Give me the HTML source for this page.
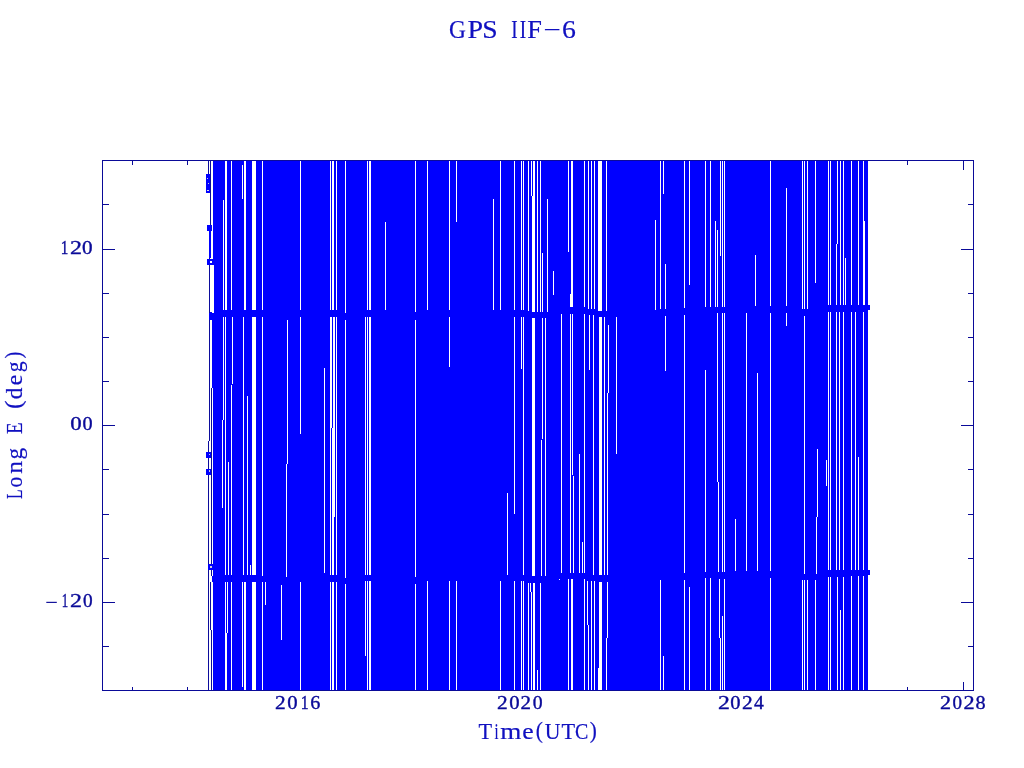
<!DOCTYPE html>
<html><head><meta charset="utf-8"><title>GPS IIF-6</title>
<style>
html,body{margin:0;padding:0;background:#fff;}
body{width:1024px;height:768px;position:relative;overflow:hidden;font-family:"Liberation Serif",serif;}
.t{position:absolute;white-space:nowrap;line-height:1;font-family:"Liberation Serif",serif;}
.ttl{color:#1010c0;font-size:25.6px;}
.lab{color:#1010c0;font-size:24px;}
.tk{color:#0a0a98;font-size:19px;letter-spacing:2.4px;-webkit-text-stroke:0.35px #0a0a98;}
</style></head><body>
<svg width="1024" height="768" viewBox="0 0 1024 768" shape-rendering="crispEdges" style="position:absolute;left:0;top:0">
<rect x="0" y="0" width="1024" height="768" fill="#fff"/>
<g fill="#0a0a98">
<rect x="102" y="160" width="872" height="1"/>
<rect x="102" y="690" width="872" height="1"/>
<rect x="102" y="160" width="1" height="531"/>
<rect x="973" y="160" width="1" height="531"/>
<rect x="132" y="161" width="1" height="4"/>
<rect x="132" y="687" width="1" height="3"/>
<rect x="187" y="161" width="1" height="4"/>
<rect x="187" y="687" width="1" height="3"/>
<rect x="242" y="161" width="1" height="4"/>
<rect x="242" y="687" width="1" height="3"/>
<rect x="298" y="161" width="1" height="9"/>
<rect x="298" y="682" width="1" height="8"/>
<rect x="353" y="161" width="1" height="4"/>
<rect x="353" y="687" width="1" height="3"/>
<rect x="409" y="161" width="1" height="4"/>
<rect x="409" y="687" width="1" height="3"/>
<rect x="464" y="161" width="1" height="4"/>
<rect x="464" y="687" width="1" height="3"/>
<rect x="520" y="161" width="1" height="9"/>
<rect x="520" y="682" width="1" height="8"/>
<rect x="575" y="161" width="1" height="4"/>
<rect x="575" y="687" width="1" height="3"/>
<rect x="630" y="161" width="1" height="4"/>
<rect x="630" y="687" width="1" height="3"/>
<rect x="686" y="161" width="1" height="4"/>
<rect x="686" y="687" width="1" height="3"/>
<rect x="741" y="161" width="1" height="9"/>
<rect x="741" y="682" width="1" height="8"/>
<rect x="796" y="161" width="1" height="4"/>
<rect x="796" y="687" width="1" height="3"/>
<rect x="852" y="161" width="1" height="4"/>
<rect x="852" y="687" width="1" height="3"/>
<rect x="907" y="161" width="1" height="4"/>
<rect x="907" y="687" width="1" height="3"/>
<rect x="963" y="161" width="1" height="9"/>
<rect x="963" y="682" width="1" height="8"/>
<rect x="103" y="204" width="6" height="1"/>
<rect x="968" y="204" width="5" height="1"/>
<rect x="103" y="249" width="12" height="1"/>
<rect x="961" y="249" width="12" height="1"/>
<rect x="103" y="293" width="6" height="1"/>
<rect x="968" y="293" width="5" height="1"/>
<rect x="103" y="337" width="6" height="1"/>
<rect x="968" y="337" width="5" height="1"/>
<rect x="103" y="381" width="6" height="1"/>
<rect x="968" y="381" width="5" height="1"/>
<rect x="103" y="425" width="12" height="1"/>
<rect x="961" y="425" width="12" height="1"/>
<rect x="103" y="469" width="6" height="1"/>
<rect x="968" y="469" width="5" height="1"/>
<rect x="103" y="514" width="6" height="1"/>
<rect x="968" y="514" width="5" height="1"/>
<rect x="103" y="558" width="6" height="1"/>
<rect x="968" y="558" width="5" height="1"/>
<rect x="103" y="602" width="12" height="1"/>
<rect x="961" y="602" width="12" height="1"/>
<rect x="103" y="646" width="6" height="1"/>
<rect x="968" y="646" width="5" height="1"/>
</g>
<rect x="212" y="161" width="656" height="529" fill="#0000ff"/>
<g fill="#fff">
<rect x="223" y="200.0" width="1" height="113.5"/>
<rect x="225" y="161.0" width="2" height="152.5"/>
<rect x="231" y="161.0" width="1" height="152.5"/>
<rect x="242" y="165.0" width="1" height="34.0"/>
<rect x="244" y="161.0" width="2" height="152.5"/>
<rect x="252" y="161.0" width="4" height="152.5"/>
<rect x="262" y="161.0" width="1" height="152.5"/>
<rect x="300" y="161.0" width="1" height="152.5"/>
<rect x="330" y="161.0" width="1" height="152.5"/>
<rect x="332" y="161.0" width="2" height="152.5"/>
<rect x="336" y="161.0" width="1" height="152.5"/>
<rect x="345" y="161.0" width="1" height="152.0"/>
<rect x="367" y="161.0" width="1" height="152.5"/>
<rect x="369" y="161.0" width="2" height="152.5"/>
<rect x="385" y="222.0" width="1" height="91.5"/>
<rect x="415" y="161.0" width="1" height="152.5"/>
<rect x="427" y="161.0" width="1" height="152.5"/>
<rect x="449" y="161.0" width="1" height="152.5"/>
<rect x="456" y="161.0" width="1" height="60.5"/>
<rect x="493" y="199.0" width="1" height="114.5"/>
<rect x="500" y="161.0" width="1" height="152.5"/>
<rect x="514" y="161.0" width="1" height="152.5"/>
<rect x="521" y="161.0" width="1" height="152.5"/>
<rect x="523" y="161.0" width="1" height="152.5"/>
<rect x="528" y="161.0" width="1" height="153.1"/>
<rect x="531" y="161.0" width="1" height="35.0"/>
<rect x="532" y="196.0" width="3" height="119.0"/>
<rect x="533" y="161.0" width="2" height="35.0"/>
<rect x="537" y="161.0" width="1" height="154.0"/>
<rect x="540" y="161.0" width="1" height="154.0"/>
<rect x="542" y="253.0" width="1" height="62.0"/>
<rect x="547" y="199.0" width="1" height="116.0"/>
<rect x="553" y="271.0" width="1" height="24.0"/>
<rect x="568" y="161.0" width="1" height="90.5"/>
<rect x="571" y="161.0" width="2" height="149.5"/>
<rect x="570" y="293.5" width="1" height="17.0"/>
<rect x="584" y="161.0" width="1" height="149.5"/>
<rect x="588" y="161.0" width="1" height="151.0"/>
<rect x="591" y="161.0" width="1" height="151.0"/>
<rect x="594" y="161.0" width="1" height="151.0"/>
<rect x="598" y="161.0" width="4" height="153.0"/>
<rect x="606" y="161.0" width="1" height="152.8"/>
<rect x="655" y="220.0" width="1" height="93.0"/>
<rect x="660" y="161.0" width="1" height="151.7"/>
<rect x="663" y="161.0" width="1" height="32.5"/>
<rect x="665" y="264.0" width="1" height="48.4"/>
<rect x="684" y="161.0" width="1" height="150.5"/>
<rect x="689" y="161.0" width="1" height="124.0"/>
<rect x="705" y="161.0" width="1" height="149.0"/>
<rect x="710" y="161.0" width="1" height="149.0"/>
<rect x="715" y="221.0" width="1" height="89.0"/>
<rect x="717" y="230.0" width="1" height="80.0"/>
<rect x="720" y="161.0" width="1" height="95.0"/>
<rect x="722" y="161.0" width="1" height="149.0"/>
<rect x="724" y="161.0" width="1" height="149.0"/>
<rect x="755" y="255.0" width="1" height="54.5"/>
<rect x="770" y="161.0" width="1" height="148.5"/>
<rect x="786" y="188.0" width="1" height="138.0"/>
<rect x="802" y="161.0" width="1" height="151.5"/>
<rect x="804" y="161.0" width="1" height="151.5"/>
<rect x="807" y="161.0" width="1" height="151.5"/>
<rect x="815" y="161.0" width="1" height="122.0"/>
<rect x="828" y="161.0" width="1" height="147.5"/>
<rect x="830" y="161.0" width="1" height="147.5"/>
<rect x="837" y="161.0" width="1" height="83.0"/>
<rect x="836" y="244.0" width="1" height="64.5"/>
<rect x="840" y="161.0" width="1" height="147.5"/>
<rect x="843" y="161.0" width="1" height="147.5"/>
<rect x="845" y="258.0" width="1" height="50.5"/>
<rect x="851" y="161.0" width="1" height="147.5"/>
<rect x="858" y="161.0" width="1" height="147.5"/>
<rect x="863" y="161.0" width="1" height="147.5"/>
<rect x="864" y="221.0" width="1" height="87.5"/>
<rect x="223" y="313.5" width="1" height="106.5"/>
<rect x="222" y="420.0" width="1" height="88.0"/>
<rect x="225" y="313.5" width="1" height="265.0"/>
<rect x="232" y="313.5" width="1" height="70.5"/>
<rect x="231" y="385.0" width="1" height="193.5"/>
<rect x="228" y="462.0" width="1" height="116.5"/>
<rect x="243" y="313.5" width="1" height="264.9"/>
<rect x="247" y="396.0" width="1" height="182.4"/>
<rect x="250" y="565.0" width="1" height="13.4"/>
<rect x="252" y="313.5" width="4" height="264.9"/>
<rect x="262" y="313.5" width="1" height="262.5"/>
<rect x="287" y="319.5" width="1" height="144.5"/>
<rect x="286" y="464.0" width="1" height="113.0"/>
<rect x="300" y="313.5" width="1" height="120.5"/>
<rect x="324" y="368.0" width="1" height="205.0"/>
<rect x="330" y="313.5" width="1" height="264.8"/>
<rect x="331" y="313.5" width="1" height="114.0"/>
<rect x="332" y="427.5" width="1" height="150.8"/>
<rect x="333" y="313.5" width="1" height="264.8"/>
<rect x="334" y="313.5" width="1" height="203.2"/>
<rect x="336" y="313.5" width="1" height="264.8"/>
<rect x="345" y="319.5" width="1" height="258.2"/>
<rect x="365" y="313.5" width="1" height="264.7"/>
<rect x="367" y="313.5" width="1" height="264.7"/>
<rect x="369" y="313.5" width="2" height="264.7"/>
<rect x="415" y="319.5" width="1" height="258.6"/>
<rect x="449" y="313.5" width="1" height="53.5"/>
<rect x="507" y="493.0" width="1" height="85.0"/>
<rect x="514" y="313.5" width="1" height="200.5"/>
<rect x="521" y="313.5" width="1" height="55.5"/>
<rect x="523" y="313.5" width="1" height="264.5"/>
<rect x="532" y="315.0" width="3" height="264.5"/>
<rect x="542" y="315.0" width="1" height="124.0"/>
<rect x="541" y="440.0" width="1" height="139.5"/>
<rect x="545" y="315.0" width="1" height="264.5"/>
<rect x="561" y="310.5" width="1" height="265.5"/>
<rect x="570" y="310.5" width="1" height="265.5"/>
<rect x="572" y="310.5" width="1" height="164.5"/>
<rect x="573" y="476.0" width="1" height="100.0"/>
<rect x="579" y="454.0" width="1" height="122.0"/>
<rect x="582" y="542.0" width="1" height="34.0"/>
<rect x="584" y="310.5" width="1" height="265.5"/>
<rect x="589" y="312.0" width="1" height="57.5"/>
<rect x="593" y="312.0" width="1" height="266.0"/>
<rect x="599" y="314.0" width="3" height="264.5"/>
<rect x="604" y="313.8" width="1" height="264.7"/>
<rect x="608" y="325.0" width="1" height="67.5"/>
<rect x="607" y="392.5" width="1" height="186.0"/>
<rect x="616" y="313.5" width="1" height="140.5"/>
<rect x="665" y="312.4" width="1" height="58.6"/>
<rect x="684" y="311.5" width="1" height="265.0"/>
<rect x="705" y="370.0" width="1" height="205.1"/>
<rect x="717" y="310.0" width="1" height="172.0"/>
<rect x="718" y="482.0" width="1" height="93.4"/>
<rect x="722" y="310.0" width="1" height="265.5"/>
<rect x="724" y="310.0" width="1" height="265.5"/>
<rect x="735" y="519.0" width="1" height="55.5"/>
<rect x="746" y="309.5" width="1" height="265.0"/>
<rect x="757" y="373.0" width="1" height="201.5"/>
<rect x="770" y="309.5" width="1" height="265.0"/>
<rect x="804" y="312.5" width="1" height="264.5"/>
<rect x="817" y="449.0" width="1" height="67.5"/>
<rect x="816" y="517.0" width="1" height="60.0"/>
<rect x="826" y="460.0" width="1" height="25.5"/>
<rect x="828" y="308.5" width="1" height="265.0"/>
<rect x="830" y="308.5" width="1" height="265.0"/>
<rect x="836" y="308.5" width="1" height="264.9"/>
<rect x="839" y="308.5" width="1" height="264.9"/>
<rect x="843" y="308.5" width="1" height="264.8"/>
<rect x="851" y="308.5" width="1" height="264.7"/>
<rect x="855" y="308.5" width="1" height="264.7"/>
<rect x="858" y="457.0" width="1" height="116.1"/>
<rect x="863" y="308.5" width="1" height="264.6"/>
<rect x="225" y="578.5" width="1" height="111.5"/>
<rect x="227" y="578.5" width="1" height="54.0"/>
<rect x="226" y="632.5" width="1" height="57.5"/>
<rect x="231" y="578.5" width="1" height="111.5"/>
<rect x="242" y="578.4" width="1" height="108.6"/>
<rect x="244" y="578.4" width="2" height="111.6"/>
<rect x="252" y="578.4" width="4" height="111.6"/>
<rect x="262" y="578.4" width="1" height="111.6"/>
<rect x="265" y="578.4" width="1" height="26.6"/>
<rect x="281" y="585.0" width="1" height="55.0"/>
<rect x="300" y="578.3" width="1" height="111.7"/>
<rect x="330" y="578.3" width="1" height="111.7"/>
<rect x="332" y="578.3" width="2" height="111.7"/>
<rect x="336" y="578.3" width="1" height="111.7"/>
<rect x="345" y="584.0" width="1" height="106.0"/>
<rect x="365" y="578.2" width="1" height="77.8"/>
<rect x="367" y="578.2" width="1" height="111.8"/>
<rect x="369" y="578.2" width="2" height="111.8"/>
<rect x="415" y="584.0" width="1" height="106.0"/>
<rect x="427" y="578.1" width="1" height="111.9"/>
<rect x="449" y="578.1" width="1" height="111.9"/>
<rect x="456" y="578.1" width="1" height="111.9"/>
<rect x="500" y="578.0" width="1" height="112.0"/>
<rect x="514" y="578.0" width="1" height="112.0"/>
<rect x="521" y="578.0" width="1" height="112.0"/>
<rect x="523" y="578.0" width="1" height="112.0"/>
<rect x="528" y="579.5" width="1" height="110.5"/>
<rect x="530" y="579.5" width="1" height="12.5"/>
<rect x="531" y="592.0" width="1" height="98.0"/>
<rect x="533" y="579.5" width="2" height="110.5"/>
<rect x="537" y="670.0" width="1" height="20.0"/>
<rect x="540" y="579.5" width="1" height="110.5"/>
<rect x="568" y="576.0" width="1" height="114.0"/>
<rect x="571" y="576.0" width="2" height="114.0"/>
<rect x="584" y="576.0" width="1" height="114.0"/>
<rect x="587" y="577.5" width="1" height="47.5"/>
<rect x="588" y="625.0" width="1" height="65.0"/>
<rect x="591" y="578.0" width="1" height="112.0"/>
<rect x="594" y="578.0" width="1" height="112.0"/>
<rect x="599" y="578.5" width="3" height="111.5"/>
<rect x="598" y="667.5" width="1" height="22.5"/>
<rect x="607" y="578.5" width="1" height="59.0"/>
<rect x="606" y="638.0" width="1" height="52.0"/>
<rect x="660" y="576.5" width="1" height="113.5"/>
<rect x="663" y="656.0" width="1" height="34.0"/>
<rect x="684" y="576.5" width="1" height="113.5"/>
<rect x="689" y="587.0" width="1" height="103.0"/>
<rect x="705" y="575.1" width="1" height="114.9"/>
<rect x="710" y="575.2" width="1" height="114.8"/>
<rect x="719" y="575.4" width="1" height="62.1"/>
<rect x="720" y="638.0" width="1" height="52.0"/>
<rect x="722" y="616.0" width="1" height="74.0"/>
<rect x="724" y="575.5" width="1" height="114.5"/>
<rect x="770" y="574.5" width="1" height="115.5"/>
<rect x="802" y="577.0" width="1" height="113.0"/>
<rect x="804" y="577.0" width="1" height="113.0"/>
<rect x="807" y="577.0" width="1" height="113.0"/>
<rect x="815" y="577.0" width="1" height="113.0"/>
<rect x="828" y="573.5" width="1" height="116.5"/>
<rect x="830" y="573.5" width="1" height="116.5"/>
<rect x="837" y="573.4" width="1" height="116.6"/>
<rect x="840" y="610.0" width="1" height="80.0"/>
<rect x="843" y="573.3" width="1" height="116.7"/>
<rect x="851" y="573.2" width="1" height="116.8"/>
<rect x="858" y="573.1" width="1" height="116.9"/>
<rect x="863" y="573.1" width="1" height="116.9"/>
</g>
<polygon fill="#0000ff" points="209,312.8 216,310.2 500,310.2 525,310.2 532,311.8 547,311.8 558,307.2 584,307.2 588,308.8 594,308.8 598,310.8 616,310.2 655,309.8 680,308.2 690,308.2 705,306.8 724,306.8 746,306.2 786,306.2 800,309.2 817,309.2 826,305.2 868,305.2 868,311.8 826,311.8 817,315.8 800,315.8 786,312.8 746,312.8 724,313.2 705,313.2 690,314.8 680,314.8 655,316.2 616,316.8 598,317.2 594,315.2 588,315.2 584,313.8 558,313.8 547,318.2 532,318.2 525,316.8 500,316.8 216,316.8 209,319.2"/>
<polygon fill="#0000ff" points="212,575.2 500,574.8 523,574.8 528,576.2 547,576.2 558,572.8 584,572.8 588,574.8 594,574.8 599,575.2 610,575.2 655,573.2 684,573.2 700,571.8 724,572.2 735,571.2 770,571.2 800,573.8 817,573.8 826,570.2 868,569.8 868,576.3 826,576.8 817,580.2 800,580.2 770,577.8 735,577.8 724,578.8 700,578.2 684,579.8 655,579.8 610,581.8 599,581.8 594,581.2 588,581.2 584,579.2 558,579.2 547,582.8 528,582.8 523,581.2 500,581.2 212,581.8"/>
<rect x="559" y="579" width="1" height="1" fill="#fff"/>
<rect x="345" y="309" width="1" height="4.0" fill="#fff"/>
<rect x="345" y="574" width="1" height="3.7" fill="#fff"/>
<rect x="415" y="309" width="1" height="2.5" fill="#fff"/>
<rect x="415" y="574" width="1" height="2.5" fill="#fff"/>
<rect x="286" y="574" width="1" height="3.0" fill="#fff"/>
<rect x="262" y="574" width="1" height="2.0" fill="#fff"/>
<rect x="866" y="305.2" width="4" height="4.6" fill="#0000ff"/>
<rect x="866" y="570.2" width="4" height="5" fill="#0000ff"/>
<g fill="#fff">
<rect x="212" y="161" width="1" height="152"/>
<rect x="213" y="265" width="1" height="48"/>
<rect x="212" y="388" width="1" height="188"/>
<rect x="212" y="582" width="1" height="108"/>
</g>
<g fill="#0c0c9c">
<rect x="208" y="161" width="1" height="14"/>
<rect x="210" y="161" width="1" height="64"/>
<rect x="209" y="258" width="1" height="183"/>
<rect x="209" y="225" width="2" height="33" fill="#0000ff"/>
<rect x="208" y="441" width="1" height="249"/>
<rect x="211" y="388" width="1" height="188"/>
<rect x="210" y="582" width="1" height="48"/>
<rect x="211" y="630" width="1" height="60"/>
</g>
<rect x="209" y="313" width="4" height="6.5" fill="#0000ff"/>
<rect x="206" y="174" width="4" height="19" fill="#0000ff"/>
<rect x="207" y="178" width="1" height="1" fill="#ccd"/><rect x="208" y="183" width="1" height="1" fill="#ccd"/><rect x="207" y="189.5" width="2" height="1" fill="#dde"/>
<rect x="207.3" y="225" width="5" height="6" fill="#0000ff"/>
<rect x="207" y="259" width="6" height="6" fill="#0000ff"/><rect x="210" y="261" width="2" height="2" fill="#fff"/>
<rect x="206.3" y="452" width="5" height="5.5" fill="#0000ff"/>
<rect x="209" y="453.5" width="1" height="1.5" fill="#ccd"/>
<rect x="206.3" y="469" width="5" height="5.5" fill="#0000ff"/>
<rect x="209" y="470" width="1" height="1.5" fill="#ccd"/>
<rect x="208" y="564" width="5" height="6" fill="#0000ff"/>
<rect x="209.5" y="566" width="2" height="1.5" fill="#ccd"/>
</svg>
<svg width="1024" height="768" viewBox="0 0 1024 768" style="position:absolute;left:0;top:0;opacity:0.999;will-change:transform" font-family="Liberation Serif, serif">
<text transform="translate(448.91,37.50) scale(0.928,1)" font-size="25.2" fill="#1010c0" stroke="#1010c0" stroke-width="0.2">G</text>
<text transform="translate(467.51,37.50) scale(1.113,1)" font-size="25.2" fill="#1010c0" stroke="#1010c0" stroke-width="0.2">P</text>
<text transform="translate(482.35,37.50) scale(1.098,1)" font-size="25.2" fill="#1010c0" stroke="#1010c0" stroke-width="0.2">S</text>
<text transform="translate(511.28,37.50) scale(0.764,1)" font-size="25.2" fill="#1010c0" stroke="#1010c0" stroke-width="0.2">I</text>
<text transform="translate(519.78,37.50) scale(0.764,1)" font-size="25.2" fill="#1010c0" stroke="#1010c0" stroke-width="0.2">I</text>
<text transform="translate(527.36,37.50) scale(1.045,1)" font-size="25.2" fill="#1010c0" stroke="#1010c0" stroke-width="0.2">F</text>
<text transform="translate(543.52,37.50) scale(1.212,1)" font-size="25.2" fill="#1010c0" stroke="#1010c0" stroke-width="0.2">−</text>
<text transform="translate(562.00,37.50) scale(1.102,1)" font-size="25.2" fill="#1010c0" stroke="#1010c0" stroke-width="0.2">6</text>
<text transform="translate(478.40,738.70) scale(0.928,1)" font-size="24" fill="#1010c0" stroke="#1010c0" stroke-width="0.2">T</text>
<text transform="translate(494.56,738.70) scale(0.608,1)" font-size="24" fill="#1010c0" stroke="#1010c0" stroke-width="0.2">i</text>
<text transform="translate(500.21,738.70) scale(1.132,1)" font-size="24" fill="#1010c0" stroke="#1010c0" stroke-width="0.2">m</text>
<text transform="translate(522.32,738.70) scale(1.070,1)" font-size="24" fill="#1010c0" stroke="#1010c0" stroke-width="0.2">e</text>
<text transform="translate(535.68,738.20) scale(0.899,1.0)" font-size="24" fill="#1010c0" stroke="#1010c0" stroke-width="0.2">(</text>
<text transform="translate(544.81,738.70) scale(0.907,1)" font-size="24" fill="#1010c0" stroke="#1010c0" stroke-width="0.2">U</text>
<text transform="translate(561.40,738.70) scale(0.928,1)" font-size="24" fill="#1010c0" stroke="#1010c0" stroke-width="0.2">T</text>
<text transform="translate(575.05,738.70) scale(0.833,1)" font-size="24" fill="#1010c0" stroke="#1010c0" stroke-width="0.2">C</text>
<text transform="translate(589.82,738.20) scale(0.881,1.0)" font-size="24" fill="#1010c0" stroke="#1010c0" stroke-width="0.2">)</text>
<text transform="translate(21.8,498.97) rotate(-90) scale(0.661,1)" font-size="23.7" fill="#1010c0" stroke="#1010c0" stroke-width="0.2">L</text>
<text transform="translate(21.8,487.42) rotate(-90) scale(0.914,1)" font-size="23.7" fill="#1010c0" stroke="#1010c0" stroke-width="0.2">o</text>
<text transform="translate(21.8,473.69) rotate(-90) scale(1.082,1)" font-size="23.7" fill="#1010c0" stroke="#1010c0" stroke-width="0.2">n</text>
<text transform="translate(21.8,459.49) rotate(-90) scale(0.980,1)" font-size="23.7" fill="#1010c0" stroke="#1010c0" stroke-width="0.2">g</text>
<text transform="translate(21.8,434.12) rotate(-90) scale(0.796,1)" font-size="23.7" fill="#1010c0" stroke="#1010c0" stroke-width="0.2">E</text>
<text transform="translate(20.900000000000002,408.90) rotate(-90) scale(1.076,1.0)" font-size="23.7" fill="#1010c0" stroke="#1010c0" stroke-width="0.2">(</text>
<text transform="translate(21.8,399.17) rotate(-90) scale(0.983,1)" font-size="23.7" fill="#1010c0" stroke="#1010c0" stroke-width="0.2">d</text>
<text transform="translate(21.8,385.20) rotate(-90) scale(1.004,1)" font-size="23.7" fill="#1010c0" stroke="#1010c0" stroke-width="0.2">e</text>
<text transform="translate(21.8,372.32) rotate(-90) scale(0.912,1)" font-size="23.7" fill="#1010c0" stroke="#1010c0" stroke-width="0.2">g</text>
<text transform="translate(20.900000000000002,358.57) rotate(-90) scale(0.876,1.0)" font-size="23.7" fill="#1010c0" stroke="#1010c0" stroke-width="0.2">)</text>
<text transform="translate(274.99,709.40) scale(1.168,1)" font-size="18.3" fill="#0a0a98" stroke="#0a0a98" stroke-width="0.35">2</text>
<text transform="translate(287.32,709.40) scale(1.132,1)" font-size="18.3" fill="#0a0a98" stroke="#0a0a98" stroke-width="0.35">0</text>
<text transform="translate(300.74,709.40) scale(0.859,1)" font-size="18.3" fill="#0a0a98" stroke="#0a0a98" stroke-width="0.35">1</text>
<text transform="translate(310.34,709.40) scale(1.106,1)" font-size="18.3" fill="#0a0a98" stroke="#0a0a98" stroke-width="0.35">6</text>
<text transform="translate(496.99,709.40) scale(1.168,1)" font-size="18.3" fill="#0a0a98" stroke="#0a0a98" stroke-width="0.35">2</text>
<text transform="translate(509.32,709.40) scale(1.132,1)" font-size="18.3" fill="#0a0a98" stroke="#0a0a98" stroke-width="0.35">0</text>
<text transform="translate(520.40,709.40) scale(1.148,1)" font-size="18.3" fill="#0a0a98" stroke="#0a0a98" stroke-width="0.35">2</text>
<text transform="translate(532.76,709.40) scale(1.080,1)" font-size="18.3" fill="#0a0a98" stroke="#0a0a98" stroke-width="0.35">0</text>
<text transform="translate(717.93,709.40) scale(1.298,1)" font-size="18.3" fill="#0a0a98" stroke="#0a0a98" stroke-width="0.35">2</text>
<text transform="translate(730.33,709.40) scale(1.119,1)" font-size="18.3" fill="#0a0a98" stroke="#0a0a98" stroke-width="0.35">0</text>
<text transform="translate(742.08,709.40) scale(1.175,1)" font-size="18.3" fill="#0a0a98" stroke="#0a0a98" stroke-width="0.35">2</text>
<text transform="translate(753.96,709.40) scale(1.075,1)" font-size="18.3" fill="#0a0a98" stroke="#0a0a98" stroke-width="0.35">4</text>
<text transform="translate(940.00,709.40) scale(1.209,1)" font-size="18.3" fill="#0a0a98" stroke="#0a0a98" stroke-width="0.35">2</text>
<text transform="translate(952.39,709.40) scale(1.041,1)" font-size="18.3" fill="#0a0a98" stroke="#0a0a98" stroke-width="0.35">0</text>
<text transform="translate(963.45,709.40) scale(1.216,1)" font-size="18.3" fill="#0a0a98" stroke="#0a0a98" stroke-width="0.35">2</text>
<text transform="translate(975.54,709.40) scale(1.106,1)" font-size="18.3" fill="#0a0a98" stroke="#0a0a98" stroke-width="0.35">8</text>
<text transform="translate(60.79,254.40) scale(0.827,1)" font-size="18.3" fill="#0a0a98" stroke="#0a0a98" stroke-width="0.35">1</text>
<text transform="translate(70.07,254.40) scale(1.311,1)" font-size="18.3" fill="#0a0a98" stroke="#0a0a98" stroke-width="0.35">2</text>
<text transform="translate(82.00,254.40) scale(1.158,1)" font-size="18.3" fill="#0a0a98" stroke="#0a0a98" stroke-width="0.35">0</text>
<text transform="translate(70.24,430.30) scale(1.249,1)" font-size="18.3" fill="#0a0a98" stroke="#0a0a98" stroke-width="0.35">0</text>
<text transform="translate(82.44,430.30) scale(1.106,1)" font-size="18.3" fill="#0a0a98" stroke="#0a0a98" stroke-width="0.35">0</text>
<text transform="translate(61.79,607.30) scale(0.703,1)" font-size="18.3" fill="#0a0a98" stroke="#0a0a98" stroke-width="0.35">1</text>
<text transform="translate(70.07,607.30) scale(1.311,1)" font-size="18.3" fill="#0a0a98" stroke="#0a0a98" stroke-width="0.35">2</text>
<text transform="translate(82.88,607.30) scale(1.054,1)" font-size="18.3" fill="#0a0a98" stroke="#0a0a98" stroke-width="0.35">0</text>
<rect x="46.3" y="601.8" width="10.5" height="1.15" fill="#0a0a98"/>
</svg>
</body></html>
